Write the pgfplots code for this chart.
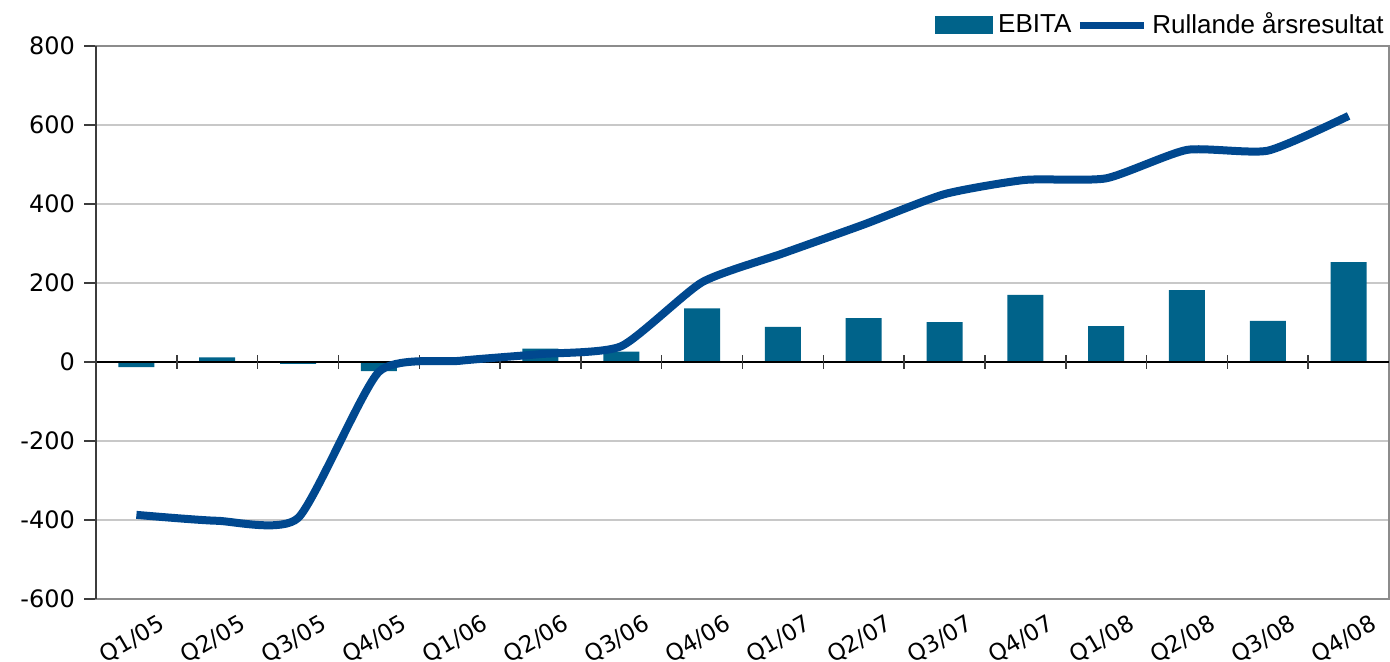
\documentclass[border=0pt]{standalone}
\usepackage{pgfplots}
\pgfplotsset{compat=1.18}
\usepackage{fontspec}
\setmainfont{Liberation Sans}
\newfontfamily\dejavu{DejaVu Sans}
\definecolor{barc}{RGB}{0,99,138}
\definecolor{linec}{RGB}{0,72,143}
\definecolor{gridc}{RGB}{200,200,200}
\definecolor{boxc}{RGB}{140,140,140}
\definecolor{axc}{RGB}{60,60,60}
\begin{document}
\begin{tikzpicture}
\path[use as bounding box] (0,0) rectangle (695pt,331pt);
\begin{axis}[
  at={(48pt,31.5pt)}, anchor=south west,
  scale only axis, width=646.5pt, height=276.5pt,
  xmin=-0.5, xmax=15.5, ymin=-600, ymax=800,
  xtick={0,...,15},
  xticklabels={Q1/05,Q2/05,Q3/05,Q4/05,Q1/06,Q2/06,Q3/06,Q4/06,Q1/07,Q2/07,Q3/07,Q4/07,Q1/08,Q2/08,Q3/08,Q4/08},
  ytick={-600,-400,...,800},
  ymajorgrids, grid style={draw=gridc, line width=0.75pt},
  axis line style={draw=boxc, line width=1pt},
  major x tick style={draw=none},
  ytick pos=left, tick align=outside, major tick length=6pt,
  major y tick style={draw=axc, line width=0.75pt},
  /pgf/number format/assume math mode=true,
  yticklabel style={font=\dejavu\fontsize{12}{14}\selectfont, text=black, anchor=east, xshift=-1pt},
  xticklabel style={font=\dejavu\fontsize{11.5}{13}\selectfont, text=black, yshift=-14.5pt, xshift=-2pt, rotate=30, anchor=center},
  legend columns=2,
  legend style={draw=none, fill=none, at={(1,1)}, anchor=east, yshift=10.5pt, xshift=0pt,
    font=\fontsize{13}{15}\selectfont, inner sep=0pt, column sep=0pt,
    nodes={inner xsep=2.5pt, inner ysep=0pt}},
  clip=false,
]
\addplot[ybar, bar width=18pt, fill=barc, draw=none,
  legend image code/.code={\fill[barc] (-2pt,-4.5pt) rectangle (27pt,4.5pt);}]
  coordinates {(0,-13) (1,12) (2,-5) (3,-23) (4,0) (5,34) (6,26) (7,136) (8,89) (9,111) (10,101) (11,170) (12,91) (13,182) (14,104) (15,253)};
\addlegendentry{EBITA}
\draw[black, line width=0.75pt] (axis cs:-0.5,0) -- (axis cs:15.5,0);
\pgfplotsinvokeforeach{0.5,1.5,2.5,3.5,4.5,5.5,6.5,7.5,8.5,9.5,10.5,11.5,12.5,13.5,14.5}{
  \draw[axc, line width=0.75pt] ([yshift=-3.5pt]axis cs:#1,0) -- ([yshift=3.5pt]axis cs:#1,0);
}
\draw[axc, line width=1pt] (rel axis cs:0,0) -- (rel axis cs:0,1);
\addplot[smooth, tension=0.35, line width=4pt, color=linec, no markers,
  legend image code/.code={\draw[linec, line width=3.5pt] (-2pt,0pt) -- (30pt,0pt);}]
  coordinates {(0,-387) (1,-402) (2,-395) (3,-25) (4,3) (5,20) (6,40) (7,202) (8,275) (9,348) (10,425) (11,461) (12,465) (13,537) (14,535) (15,623)};
\addlegendentry{Rullande årsresultat}
\end{axis}
\end{tikzpicture}
\end{document}
